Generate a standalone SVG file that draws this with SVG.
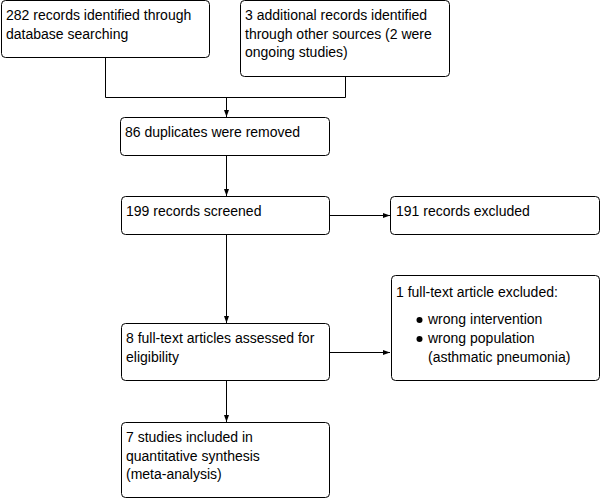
<svg xmlns="http://www.w3.org/2000/svg" width="602" height="498" viewBox="0 0 602 498">
<style>
.box{fill:#fff;stroke:#000;stroke-width:1}
.t{font-family:"Liberation Sans",Arial,sans-serif;font-size:14px;fill:#000}
.c{fill:none;stroke:#000;stroke-width:1}
</style>
<defs>
<marker id="ah" markerWidth="7" markerHeight="6" refX="7" refY="3" orient="auto" markerUnits="userSpaceOnUse">
<path d="M0,0.5 L7,3 L0,5.5 Z" fill="#000"/>
</marker>
</defs>
<rect width="602" height="498" fill="#fff"/>
<g id="connectors">
<path class="c" d="M105.5,57.5 V97.5 H345.5 V76.5"/>
<path class="c" d="M226.5,97.5 V117" marker-end="url(#ah)"/>
<path class="c" d="M226.5,155.5 V196" marker-end="url(#ah)"/>
<path class="c" d="M329.5,215.5 H390" marker-end="url(#ah)"/>
<path class="c" d="M226.5,234.5 V323" marker-end="url(#ah)"/>
<path class="c" d="M329.5,352.5 H390" marker-end="url(#ah)"/>
<path class="c" d="M226.5,380.5 V422" marker-end="url(#ah)"/>
</g>
<g id="n1">
<rect class="box" x="1.5" y="0.5" width="208" height="57" rx="4"/>
<text class="t" x="6" y="20">282 records identified through</text>
<text class="t" x="6" y="38.5">database searching</text>
</g>
<g id="n2">
<rect class="box" x="240.5" y="0.5" width="209" height="76" rx="4"/>
<text class="t" x="245" y="19.5">3 additional records identified</text>
<text class="t" x="245" y="38.5">through other sources (2 were</text>
<text class="t" x="245" y="57">ongoing studies)</text>
</g>
<g id="n3">
<rect class="box" x="120.5" y="117.5" width="209" height="38" rx="4"/>
<text class="t" x="125" y="137">86 duplicates were removed</text>
</g>
<g id="n4">
<rect class="box" x="121.5" y="196.5" width="208" height="38" rx="4"/>
<text class="t" x="126" y="216">199 records screened</text>
</g>
<g id="n5">
<rect class="box" x="390.5" y="196.5" width="209" height="38" rx="4"/>
<text class="t" x="396" y="216">191 records excluded</text>
</g>
<g id="n6">
<rect class="box" x="121.5" y="323.5" width="208" height="57" rx="4"/>
<text class="t" x="126" y="343">8 full-text articles assessed for</text>
<text class="t" x="126" y="362">eligibility</text>
</g>
<g id="n7">
<rect class="box" x="391.5" y="275.5" width="208" height="105" rx="4"/>
<text class="t" x="396" y="297">1 full-text article excluded:</text>
<circle cx="419.5" cy="320" r="3"/>
<text class="t" x="428" y="324">wrong intervention</text>
<circle cx="419.5" cy="339" r="3"/>
<text class="t" x="428" y="343">wrong population</text>
<text class="t" x="428" y="362">(asthmatic pneumonia)</text>
</g>
<g id="n8">
<rect class="box" x="121.5" y="422.5" width="208" height="75" rx="4"/>
<text class="t" x="126" y="442">7 studies included in</text>
<text class="t" x="126" y="460.5">quantitative synthesis</text>
<text class="t" x="126" y="479">(meta-analysis)</text>
</g>
</svg>
